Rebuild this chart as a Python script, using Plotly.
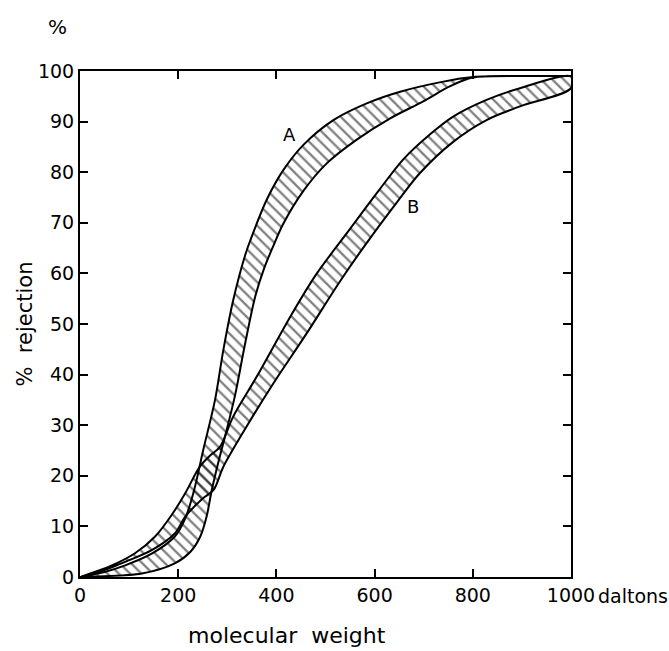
import plotly.graph_objects as go

# ---- data ----
# Band A (steep curve) : upper/left edge and lower/right edge
A_hi_x = [0, 50, 92, 146, 193, 214, 232, 251, 275, 292, 312, 336, 346, 380, 414, 455, 516, 584, 652, 740, 800, 900, 1000]
A_hi_y = [0, 1.0, 2.3, 4.6, 8.0, 11.5, 17.0, 25.1, 35.0, 44.9, 54.7, 63.5, 66.3, 74.5, 80.4, 85.4, 90.3, 93.6, 95.9, 97.9, 98.8, 99.0, 99.0]
A_lo_x = [0, 30, 126, 193, 225, 245, 258, 268, 280, 296, 316, 336, 357, 375, 394, 414, 455, 502, 563, 631, 699, 754, 800, 900, 1000]
A_lo_y = [0, 0.1, 0.7, 2.7, 5.0, 8.0, 12.0, 17.0, 22.0, 28.0, 36.0, 46.0, 55.5, 61.0, 65.5, 69.8, 76.3, 81.7, 86.4, 90.6, 94.0, 97.0, 98.7, 99.0, 99.0]

# Band B (gentle curve)
B_hi_x = [0, 58, 112, 153, 187, 214, 244, 265, 285, 312, 360, 428, 481, 550, 604, 658, 713, 760, 828, 896, 1000]
B_hi_y = [0, 2.0, 4.7, 8.0, 12.3, 16.5, 21.8, 24.0, 25.7, 31.7, 39.6, 51.4, 59.8, 68.8, 75.8, 82.5, 87.5, 91.0, 94.3, 96.6, 98.9]
B_lo_x = [0, 30, 92, 146, 193, 214, 250, 272, 292, 339, 394, 462, 530, 580, 645, 692, 760, 828, 896, 1000]
B_lo_y = [0, 0.7, 3.0, 5.3, 8.6, 11.9, 15.5, 17.2, 21.8, 29.7, 38.3, 48.2, 58.5, 65.5, 74.0, 79.8, 86.0, 90.3, 93.0, 96.6]

x_ticks = [0, 200, 400, 600, 800, 1000]
x_tick_labels = ["0", "200", "400", "600", "800", "1000"]
y_ticks = [0, 10, 20, 30, 40, 50, 60, 70, 80, 90, 100]
y_tick_labels = [str(v) for v in y_ticks]

band_labels = [("A", 426, 87.4), ("B", 679, 73.2)]

FONT = "DejaVu Sans"

fig = go.Figure()


def band(xh, yh, xl, yl, name):
    xs = list(xh) + list(reversed(xl))
    ys = list(yh) + list(reversed(yl))
    fig.add_trace(go.Scatter(
        x=xs, y=ys, mode="lines", name=name,
        fill="toself", fillcolor="rgba(0,0,0,0)",
        fillpattern=dict(shape="\\", fgcolor="black", bgcolor="rgba(0,0,0,0)",
                         size=8, solidity=0.28, fillmode="overlay"),
        line=dict(color="black", width=2, shape="spline", smoothing=0.9),
        hoverinfo="skip", showlegend=False,
    ))


band(B_hi_x, B_hi_y, B_lo_x, B_lo_y, "B")
band(A_hi_x, A_hi_y, A_lo_x, A_lo_y, "A")

for txt, lx, ly in band_labels:
    fig.add_annotation(x=lx, y=ly, text=txt, showarrow=False,
                       font=dict(family=FONT, size=18, color="black"))

# extra texts
fig.add_annotation(xref="paper", yref="paper", x=1, y=0, xanchor="left", yanchor="middle",
                   xshift=25, yshift=-19, text="daltons", showarrow=False,
                   font=dict(family=FONT, size=19, color="black"))
fig.add_annotation(xref="paper", yref="paper", x=0.4216, y=0, yanchor="middle",
                   yshift=-58, text="molecular  weight", showarrow=False,
                   font=dict(family=FONT, size=22, color="black"))
fig.add_annotation(xref="paper", yref="paper", x=0, y=1, xanchor="center", yanchor="middle",
                   xshift=-23, yshift=44, text="%", showarrow=False,
                   font=dict(family=FONT, size=20, color="black"))

axis_common = dict(showline=True, linecolor="black", linewidth=2, mirror="ticks",
                   ticks="inside", ticklen=8, tickwidth=1.5, tickcolor="black",
                   showgrid=False, zeroline=False,
                   tickfont=dict(family=FONT, size=19, color="black"))

fig.update_xaxes(range=[0, 1000], tickvals=x_ticks, ticktext=x_tick_labels, **axis_common)
fig.update_yaxes(range=[0, 100], tickvals=y_ticks, ticktext=y_tick_labels,
                 title=dict(text="%  rejection", standoff=0,
                            font=dict(family=FONT, size=21, color="black")),
                 **axis_common)

fig.update_layout(width=669, height=651,
                  margin=dict(l=80, r=98, t=71, b=74),
                  paper_bgcolor="white", plot_bgcolor="white",
                  font=dict(family=FONT, color="black"))

# remove the default 8px page margin so the figure fills the window exactly
fig.write_html("out.html",
               config={"displayModeBar": False},
               post_script="document.body.style.margin='0';"
                           "document.documentElement.style.overflow='hidden';"
                           "document.body.style.overflow='hidden';")
